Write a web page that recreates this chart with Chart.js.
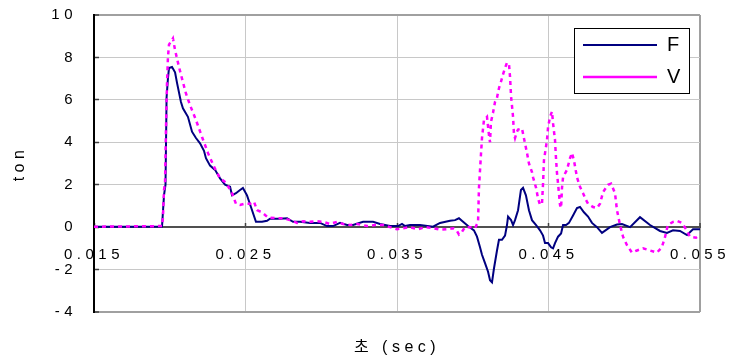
<!DOCTYPE html>
<html>
<head>
<meta charset="utf-8">
<script src="https://cdn.jsdelivr.net/npm/chart.js@4.4.0/dist/chart.umd.min.js"></script>
<style>
  html, body { margin: 0; padding: 0; background: #fff; }
  #wrap { width: 739px; height: 360px; }
</style>
</head>
<body>
<div id="wrap"><canvas id="chart"></canvas></div>
<script>
// time in seconds, load in ton
const fTime = [0.01500, 0.01738, 0.01949, 0.01962, 0.01972, 0.01979, 0.01988, 0.01995, 0.02015, 0.02035,
  0.02048, 0.02074, 0.02087, 0.02120, 0.02147, 0.02173, 0.02200, 0.02226, 0.02239, 0.02266,
  0.02299, 0.02332, 0.02365, 0.02398, 0.02411, 0.02437, 0.02464, 0.02483, 0.02510, 0.02536,
  0.02569, 0.02609, 0.02642, 0.02662, 0.02728, 0.02774, 0.02814, 0.02860, 0.02926, 0.02992,
  0.03038, 0.03078, 0.03124, 0.03170, 0.03210, 0.03276, 0.03342, 0.03388, 0.03454, 0.03507,
  0.03533, 0.03553, 0.03586, 0.03652, 0.03738, 0.03784, 0.03850, 0.03883, 0.03909, 0.03936,
  0.03969, 0.04008, 0.04028, 0.04048, 0.04061, 0.04081, 0.04101, 0.04114, 0.04127, 0.04140,
  0.04160, 0.04173, 0.04193, 0.04213, 0.04226, 0.04233, 0.04253, 0.04266, 0.04279, 0.04299,
  0.04318, 0.04332, 0.04351, 0.04371, 0.04391, 0.04418, 0.04444, 0.04464, 0.04477, 0.04497,
  0.04517, 0.04530, 0.04543, 0.04563, 0.04583, 0.04596, 0.04616, 0.04635, 0.04662, 0.04688,
  0.04708, 0.04734, 0.04761, 0.04787, 0.04820, 0.04853, 0.04906, 0.04952, 0.04985, 0.05038,
  0.05104, 0.05170, 0.05236, 0.05282, 0.05322, 0.05368, 0.05414, 0.05454, 0.05500];
const fLoad = [0.02, 0.02, 0.03, 1.5, 2.0, 6.1, 7.0, 7.5, 7.55, 7.3,
  6.8, 5.9, 5.6, 5.2, 4.5, 4.2, 3.95, 3.6, 3.25, 2.9,
  2.7, 2.3, 2.0, 1.9, 1.5, 1.6, 1.75, 1.85, 1.5, 0.95,
  0.25, 0.25, 0.3, 0.4, 0.4, 0.42, 0.25, 0.25, 0.2, 0.2,
  0.05, 0.05, 0.2, 0.1, 0.1, 0.25, 0.25, 0.15, 0.05, 0.05,
  0.15, 0.05, 0.1, 0.1, 0.02, 0.2, 0.3, 0.33, 0.42, 0.25,
  0.05, -0.15, -0.45, -0.95, -1.3, -1.7, -2.1, -2.5, -2.6, -1.95,
  -1.1, -0.6, -0.6, -0.4, 0.1, 0.5, 0.33, 0.1, 0.33, 0.8,
  1.75, 1.85, 1.5, 0.8, 0.33, 0.1, -0.15, -0.4, -0.75, -0.75,
  -0.95, -1.0, -0.75, -0.45, -0.3, 0.1, 0.1, 0.2, 0.55, 0.9,
  0.95, 0.7, 0.5, 0.2, 0.0, -0.27, 0.0, 0.12, 0.15, 0.0,
  0.47, 0.1, -0.18, -0.27, -0.15, -0.18, -0.37, -0.1, -0.1];

const vTime = [0.01500, 0.01949, 0.01955, 0.01962, 0.01969, 0.01975, 0.01982, 0.01988, 0.01995, 0.02021,
  0.02035, 0.02061, 0.02081, 0.02107, 0.02134, 0.02173, 0.02213, 0.02252, 0.02292, 0.02332,
  0.02371, 0.02411, 0.02437, 0.02464, 0.02490, 0.02530, 0.02556, 0.02576, 0.02609, 0.02649,
  0.02662, 0.02708, 0.02748, 0.02794, 0.02840, 0.02880, 0.02926, 0.02972, 0.03012, 0.03058,
  0.03104, 0.03144, 0.03190, 0.03236, 0.03302, 0.03355, 0.03408, 0.03454, 0.03500, 0.03540,
  0.03586, 0.03639, 0.03685, 0.03738, 0.03784, 0.03830, 0.03870, 0.03896, 0.03909, 0.03929,
  0.03949, 0.03982, 0.04015, 0.04035, 0.04041, 0.04054, 0.04061, 0.04074, 0.04094, 0.04107,
  0.04114, 0.04120, 0.04134, 0.04147, 0.04160, 0.04173, 0.04186, 0.04200, 0.04213, 0.04226,
  0.04239, 0.04246, 0.04253, 0.04266, 0.04272, 0.04279, 0.04292, 0.04299, 0.04325, 0.04332,
  0.04345, 0.04358, 0.04371, 0.04391, 0.04398, 0.04418, 0.04431, 0.04444, 0.04457, 0.04464,
  0.04470, 0.04490, 0.04497, 0.04510, 0.04523, 0.04530, 0.04543, 0.04549, 0.04556, 0.04563,
  0.04576, 0.04583, 0.04589, 0.04596, 0.04622, 0.04642, 0.04655, 0.04668, 0.04688, 0.04708,
  0.04728, 0.04748, 0.04761, 0.04794, 0.04820, 0.04840, 0.04860, 0.04893, 0.04913, 0.04939,
  0.04952, 0.04972, 0.04992, 0.05018, 0.05051, 0.05084, 0.05124, 0.05170, 0.05216, 0.05248,
  0.05268, 0.05288, 0.05322, 0.05348, 0.05381, 0.05408, 0.05434, 0.05474, 0.05500];
const vLoad = [0.02, 0.05, 0.45, 1.75, 2.1, 4.6, 6.8, 8.0, 8.6, 8.9,
  8.35, 7.55, 7.0, 6.3, 5.75, 5.05, 4.25, 3.5, 2.85, 2.3,
  2.1, 1.6, 1.1, 1.05, 1.1, 1.1, 1.2, 0.8, 0.7, 0.45,
  0.45, 0.42, 0.42, 0.33, 0.2, 0.28, 0.25, 0.28, 0.25, 0.15,
  0.25, 0.15, 0.1, 0.15, 0.05, 0.1, 0.1, 0.0, -0.1, -0.05,
  0.0, -0.1, 0.0, -0.05, -0.12, -0.1, -0.05, -0.18, -0.35, -0.22,
  0.0, 0.0, -0.05, 0.25, 1.85, 3.4, 4.2, 5.05, 5.2, 4.35,
  4.0, 4.95, 5.4, 5.9, 6.1, 6.55, 6.85, 7.2, 7.5, 7.75,
  7.7, 7.1, 6.15, 5.2, 4.4, 4.2, 4.5, 4.6, 4.65, 4.4,
  3.95, 3.5, 3.0, 2.6, 2.35, 1.85, 1.35, 1.05, 1.1, 2.05,
  3.15, 4.1, 4.7, 5.2, 5.45, 4.9, 4.1, 3.3, 2.55, 2.05,
  1.05, 0.9, 1.85, 2.35, 2.7, 3.25, 3.5, 3.15, 2.35, 1.9,
  1.6, 1.27, 1.1, 0.95, 0.9, 1.1, 1.65, 2.0, 2.05, 1.6,
  0.8, 0.1, -0.45, -0.85, -1.2, -1.1, -1.0, -1.1, -1.2, -0.95,
  -0.5, 0.1, 0.25, 0.3, 0.2, -0.1, -0.45, -0.5, -0.37];

const xTicks = [0.015, 0.025, 0.035, 0.045, 0.055];
const yTicks = [-4, -2, 0, 2, 4, 6, 8, 10];

const FONT = "'Liberation Sans', Arial, 'Noto Sans CJK KR', sans-serif";
const pts = (xs, ys) => xs.map((x, i) => ({ x: x, y: ys[i] }));

// legend frame + spaced lettering
const frame = {
  id: 'frame',
  beforeDraw(chart) {
    chart.ctx.letterSpacing = '4.5px';
  },
  afterLayout(chart) {
    const lg = chart.legend, ca = chart.chartArea;
    lg.left = ca.right - 129;
    lg.top = ca.top + 8;
    lg.width = 118;
    lg.height = 100;
    lg.right = lg.left + lg.width;
    lg.bottom = lg.top + lg.height;
  },
  afterDatasetsDraw(chart) {
    const ctx = chart.ctx, ca = chart.chartArea;
    const x = ca.right - 126, y = ca.top + 13, w = 115, h = 65;
    ctx.save();
    ctx.fillStyle = '#fff';
    ctx.fillRect(x, y, w, h);
    ctx.strokeStyle = '#000';
    ctx.lineWidth = 1;
    ctx.strokeRect(x + 0.5, y + 0.5, w, h);
    ctx.restore();
    chart.legend.draw();
  }
};

new Chart(document.getElementById('chart'), {
  type: 'line',
  data: {
    datasets: [
      {
        label: 'F',
        data: pts(fTime, fLoad),
        borderColor: '#000080',
        backgroundColor: '#000080',
        borderWidth: 2,
        pointRadius: 0,
        pointStyle: 'line',
        order: 2
      },
      {
        label: 'V',
        data: pts(vTime, vLoad),
        borderColor: '#ff00ff',
        backgroundColor: '#ff00ff',
        borderWidth: 2.5,
        borderDash: [4, 4],
        pointRadius: 0,
        pointStyle: 'line',
        order: 1
      }
    ]
  },
  options: {
    responsive: true,
    maintainAspectRatio: false,
    animation: false,
    layout: { padding: { left: 0, right: 39, top: 15, bottom: 0 } },
    plugins: {
      legend: {
        position: 'chartArea',
        align: 'start',
        labels: {
          usePointStyle: true,
          pointStyle: 'line',
          pointStyleWidth: 74,
          padding: 12,
          color: '#000',
          font: { family: FONT, size: 20, lineHeight: 1 },
          sort: (a, b) => a.datasetIndex - b.datasetIndex
        }
      },
      tooltip: { enabled: false }
    },
    scales: {
      x: {
        type: 'linear',
        position: { y: 0 },
        min: xTicks[0],
        max: xTicks[xTicks.length - 1],
        afterBuildTicks: (s) => { s.ticks = xTicks.map(v => ({ value: v })); },
        afterFit: (s) => {
          s.paddingLeft = 0;
          s.paddingRight = 0;
        },
        ticks: {
          padding: 24,
          color: '#000',
          font: { family: FONT, size: 15 },
          maxRotation: 0,
          callback: (v) => v.toFixed(3)
        },
        grid: {
          drawTicks: true,
          tickLength: -5,          // short marks pointing up into the plot
          tickColor: '#404040',
          tickWidth: 1.5,
          color: (c) => c.index === xTicks.length - 1 ? '#a0a0a0' : '#c8c8c8',
          lineWidth: (c) => c.index === xTicks.length - 1 ? 2 : 1
        },
        border: { color: '#505050', width: 2 }
      },
      x2: {
        type: 'linear',
        axis: 'x',
        position: 'bottom',
        min: xTicks[0],
        max: xTicks[xTicks.length - 1],
        afterFit: (s) => {
          s.height = 48;
          s.paddingLeft = 0;
          s.paddingRight = 0;
        },
        ticks: { display: false },
        grid: { display: false },
        border: { display: false },
        title: {
          display: true,
          text: '초 (sec)',
          color: '#000',
          font: { family: FONT, size: 16 },
          padding: { top: 0, bottom: 3 }
        }
      },
      y: {
        min: yTicks[0],
        max: yTicks[yTicks.length - 1],
        afterFit: (s) => {
          s.width = 94;
          s.paddingTop = 0;
          s.paddingBottom = 0;
        },
        afterBuildTicks: (s) => { s.ticks = yTicks.map(v => ({ value: v })); },
        ticks: {
          padding: 22,
          color: '#000',
          font: { family: FONT, size: 15 }
        },
        grid: {
          drawTicks: true,
          tickLength: -5,
          tickColor: '#404040',
          tickWidth: 1.5,
          color: (c) => (c.tick && (c.tick.value === 10 || c.tick.value === -4)) ? '#a0a0a0' : '#c8c8c8',
          lineWidth: (c) => (c.tick && (c.tick.value === 10 || c.tick.value === -4)) ? 2 : 1
        },
        border: { color: '#000', width: 2 },
        title: {
          display: true,
          text: 'ton',
          color: '#000',
          font: { family: FONT, size: 16 },
          padding: { top: 10, bottom: 0 }
        }
      }
    }
  },
  plugins: [frame]
});
</script>
</body>
</html>
